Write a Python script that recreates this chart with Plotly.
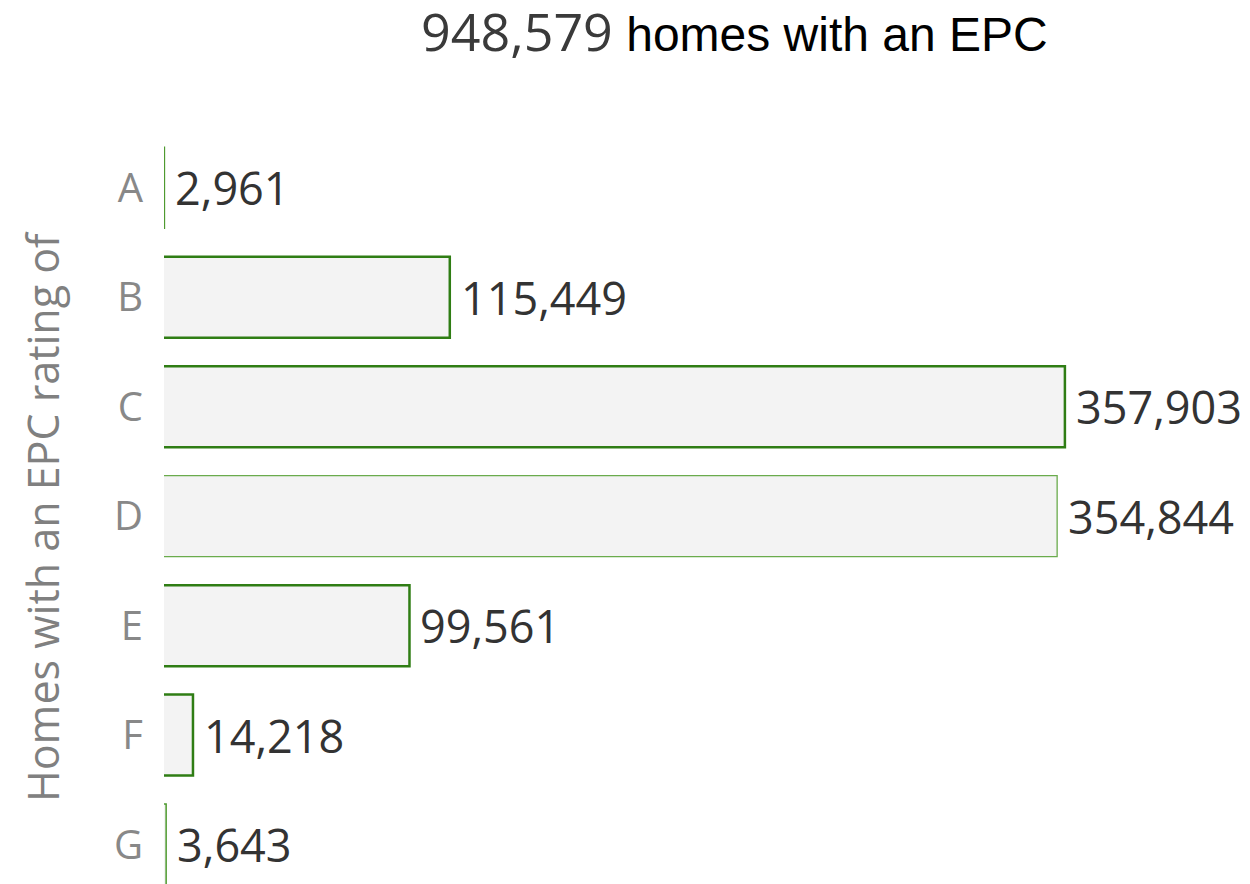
import plotly.graph_objects as go

ratings = ["A", "B", "C", "D", "E", "F", "G"]
homes = [2961, 115449, 357903, 354844, 99561, 14218, 3643]
total_homes = 948579
border_colors = ["#4e9a2f", "#2f7d14", "#2f7d14", "#6aab4c", "#2f7d14", "#2f7d14", "#4e9a2f"]
border_widths = [1.5, 2.5, 2.5, 1.3, 2.5, 2.5, 1.5]

fig = go.Figure()
fig.add_trace(go.Bar(
    x=homes, y=ratings, orientation="h",
    marker=dict(color="#f3f3f3", line=dict(color=border_colors, width=border_widths)),
    hoverinfo="skip",
))

for r, v in zip(ratings, homes):
    fig.add_annotation(x=v, y=r, text=f"{v:,}", showarrow=False, xanchor="left",
                       xshift=9, font=dict(family="Open Sans", size=45, color="#333333"))

fig.add_annotation(
    xref="paper", yref="paper", x=0.528, y=1.137, showarrow=False,
    xanchor="center", yanchor="middle",
    text=(f"<span style='font-family:Open Sans;color:#3a3a3a;font-size:52px'>{total_homes:,}</span>"
          "<span style='font-family:Liberation Sans, Arial;color:#000000;font-size:48px'> homes with an EPC</span>"),
)
fig.add_annotation(
    xref="paper", yref="paper", x=-0.1129, y=0.49, showarrow=False, textangle=-90,
    xanchor="center", yanchor="middle",
    text="Homes with an EPC rating of",
    font=dict(family="Open Sans", size=43, color="#808080"),
)

fig.update_layout(
    width=1250, height=884,
    margin=dict(l=156, r=13, t=125, b=8),
    plot_bgcolor="white", paper_bgcolor="white",
    bargap=0.26, showlegend=False,
    xaxis=dict(range=[2800, 428893], visible=False, showgrid=False, zeroline=False),
    yaxis=dict(range=[6.36, -0.5], showgrid=False, zeroline=False, showline=False,
               ticks="", ticklabelstandoff=20,
               tickfont=dict(family="Open Sans", size=40, color="#888888")),
)

fig.write_html("out.html")
